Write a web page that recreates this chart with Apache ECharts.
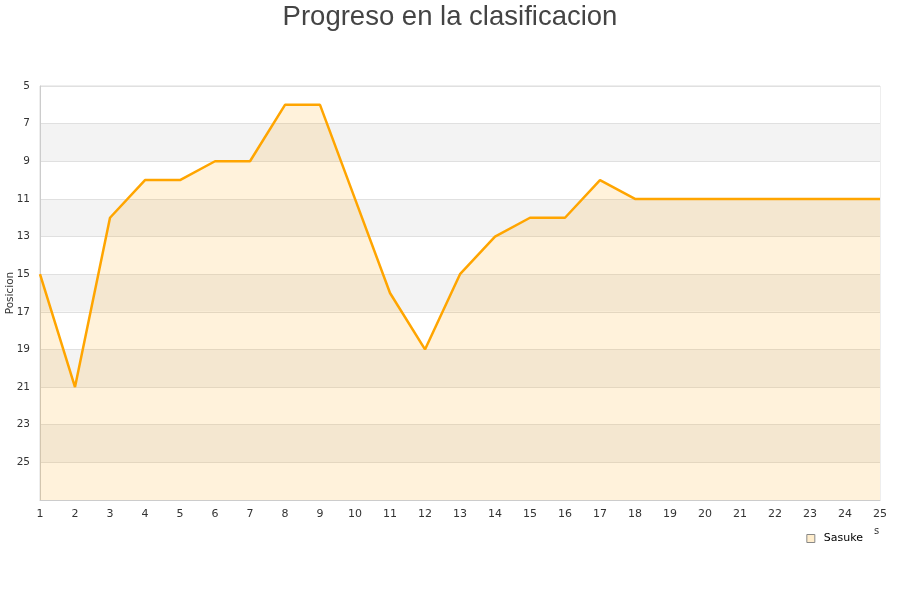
<!DOCTYPE html>
<html><head><meta charset="utf-8">
<script src="https://cdn.jsdelivr.net/npm/echarts@6/dist/echarts.min.js"></script>
<style>html,body{margin:0;padding:0;background:#fff}#c{width:900px;height:600px}</style>
</head><body><div id="c"></div>
<script>
var titleText = 'Progreso en la clasificacion';
var jornadas = ['1','2','3','4','5','6','7','8','9','10','11','12','13','14','15','16','17','18','19','20','21','22','23','24','25'];
var sasuke = [15,21,12,10,10,9,9,6,6,11,16,19,15,13,12,12,10,11,11,11,11,11,11,11,11];
var seriesName = 'Sasuke';
var yName = 'Posicion';
var xName = 's';

var chart = echarts.init(document.getElementById('c'));
chart.setOption({
  animation: false,
  title: { text: titleText, left: 'center', top: -2, textStyle: { fontFamily: 'Liberation Sans, Arial, sans-serif', fontSize: 27.5, fontWeight: 'normal', color: '#444' } },
  legend: { right: 32, top: 528, itemWidth: 8, itemHeight: 8, itemGap: 6, icon: 'rect', textStyle: { fontFamily: 'DejaVu Sans', fontSize: 11, color: '#000', padding: [0, 0, 0, 4] }, data: [{ name: seriesName, itemStyle: { color: '#ffedcc', borderColor: '#888', borderWidth: 1 } }] },
  grid: { left: 40, right: 20, top: 86, bottom: 100, containLabel: false, outerBoundsMode: 'none', show: true, borderColor: '#ddd', borderWidth: 1 },
  xAxis: {
    type: 'category', data: jornadas, boundaryGap: false,
    name: xName, nameLocation: 'end', nameGap: -6,
    nameTextStyle: { fontFamily: 'DejaVu Sans', fontSize: 10, color: '#333', verticalAlign: 'top', align: 'left', padding: [26, 0, 0, 0] },
    axisLine: { lineStyle: { color: '#ccc' } }, axisTick: { show: false },
    axisLabel: { fontFamily: 'DejaVu Sans', fontSize: 11, color: '#333', margin: 9 },
    splitLine: { show: false }
  },
  yAxis: {
    type: 'value', inverse: true, min: 5, max: 27, interval: 2,
    name: yName, nameLocation: 'middle', nameGap: 24, nameMoveOverlap: false,
    nameTextStyle: { fontFamily: 'DejaVu Sans', fontSize: 10.5, color: '#333' },
    axisLine: { show: true, lineStyle: { color: '#ccc' } }, axisTick: { show: false },
    axisLabel: { fontFamily: 'DejaVu Sans', fontSize: 10.5, color: '#333', margin: 10, showMaxLabel: false },
    splitLine: { show: true, lineStyle: { color: '#e0e0e0' } },
    splitArea: { show: true, areaStyle: { color: ['#ffffff', '#f3f3f3'] } }
  },
  series: [{
    name: seriesName, type: 'line', data: sasuke, symbol: 'none',
    lineStyle: { color: '#ffa500', width: 2.5 },
    itemStyle: { color: '#ffedcc' },
    areaStyle: { color: 'rgba(255,165,0,0.2)', origin: 'end' }
  }]
});
</script></body></html>
